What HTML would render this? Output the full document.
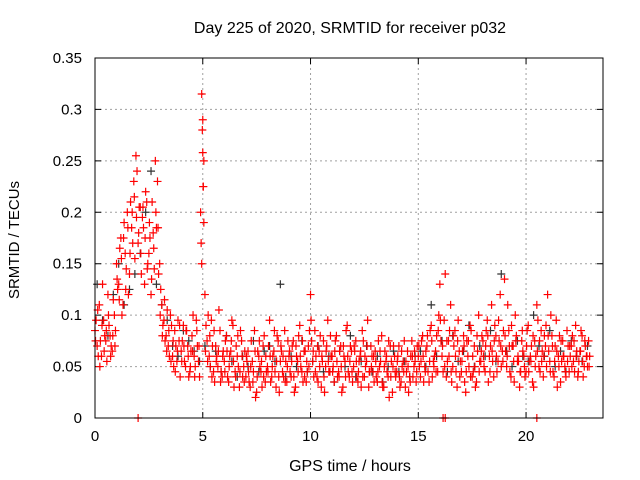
<!DOCTYPE html>
<html><head><meta charset="utf-8"><style>
body{margin:0;background:#fff;}
svg{display:block;font-family:"Liberation Sans",sans-serif;}
</style></head><body>
<svg id="chart" width="640" height="480">
<text x="350" y="33" text-anchor="middle" font-size="16">Day 225 of 2020, SRMTID for receiver p032</text>
<text x="350" y="471" text-anchor="middle" font-size="16">GPS time / hours</text>
<text transform="translate(19,240) rotate(-90)" text-anchor="middle" font-size="15">SRMTID / TECUs</text>
<g id="grid"></g><g id="ticks"></g><g id="black"></g><g id="red"></g>
<rect x="95" y="58" width="508" height="360" fill="none" stroke="#000" stroke-width="1"/>
</svg>
<script>
const xTicks=[0,5,10,15,20];
const yTicks=[0,0.05,0.1,0.15,0.2,0.25,0.3,0.35];
const yTickLabels=["0","0.05","0.1","0.15","0.2","0.25","0.3","0.35"];
const redA=[85,70,110,60,95,75,120,80,65,100,150,130,175,110,160,200,140,185,230,255,170,205,195,130,210,160,120,180,250,230,150,110,95,80,70,100,60,85,55,75,65,90,50,70,45,80,60,95,55,200,290,120,75,60,95,45,70,50,85,40,55,80,35,65,90,45,60,30,75,50,40,65,30,55,85,25,60,45,70,35,50,95,40,65,30,75,55,45,85,35,60,40,75,30,55,90,45,65,35,70,120,55,85,40,65,30,75,50,95,45,60,35,80,45,70,30,55,90,40,65,50,75,35,60,85,40,55,30,70,45,65,35,50,80,30,55,40,70,25,60,45,70,35,55,30,65,40,75,50,35,60,40,80,50,70,35,90,55,65,45,130,60,95,40,75,110,50,85,30,65,45,80,25,60,90,40,70,35,100,55,75,45,95,60,110,40,80,55,120,65,135,50,85,40,70,100,55,30,75,60,45,90,60,35,75,110,50,85,40,70,120,55,80,40,95,60,35,75,50,85,45,70,55,90,40,65,80,50,60,75];
const redB=[95,60,75,130,80,55,90,70,115,85,125,165,100,190,145,120,210,170,155,240,205,140,185,220,150,175,210,145,185,140,125,90,75,105,60,90,50,70,95,40,75,55,85,40,65,100,50,70,40,150,250,90,100,50,70,35,60,105,45,65,75,40,60,95,30,70,50,85,40,65,55,35,75,45,20,65,50,30,80,45,70,35,60,45,80,25,65,40,55,75,45,70,25,60,80,50,35,65,45,85,75,40,60,35,80,55,25,70,45,60,50,75,40,65,25,60,85,45,70,35,65,40,55,30,75,50,95,45,60,35,40,75,55,30,65,45,20,55,70,40,60,30,50,75,45,25,60,40,55,70,50,75,35,65,45,85,40,60,80,100,75,45,140,55,85,35,70,45,95,55,65,35,75,50,85,45,30,65,55,80,50,85,35,70,55,90,45,75,50,85,65,110,45,70,35,80,55,45,65,40,85,55,70,30,60,95,45,65,80,50,65,100,45,70,30,80,55,60,40,70,60,80,45,65,55,85,40,70,50,60];
const redC=[75,105,50,90,65,85,100,60,80,70,135,115,155,175,125,185,160,200,215,195,180,160,205,175,145,190,135,165,200,185,100,80,115,65,85,55,75,45,65,90,55,70,85,60,50,65,40,85,70,170,225,65,55,80,40,85,55,65,35,60,45,65,50,75,55,40,80,45,60,35,60,45,50,35,65,40,75,55,40,60,45,60,50,85,55,40,70,60,35,50,65,55,40,70,45,60,75,40,55,50,95,65,45,70,50,60,40,65,55,80,45,65,55,40,50,70,40,60,55,45,70,55,45,65,40,60,70,45,50,60,55,45,65,35,50,60,75,40,50,45,55,40,65,45,55,50,35,60,65,45,70,55,60,45,80,55,75,50,45,85,95,70,50,75,60,45,80,60,75,40,55,70,45,75,40,60,50,80,45,65,60,70,80,45,65,75,60,95,70,55,80,60,70,90,55,75,60,45,85,50,70,45,55,80,50,65,75,55,60,90,80,45,70,55,65,50,75,60,45,55,70,50,75,60,45,65,55,75,60,50];
const black=[130,95,80,120,150,110,125,140,160,200,240,130,110,95,70,60,85,75,65,55,70,50,65,45,80,55,40,60,50,75,45,65,70,55,130,40,60,50,75,45,55,70,45,60,35,65,50,80,40,55,70,45,60,35,50,65,45,55,40,60,65,50,110,60,75,45,80,55,65,90,50,70,60,85,55,140,65,50,75,60,55,100,70,60,85,50,65,45,75,60,55,70];
const spikeT=[4.95,4.98,5.0,5.02,5.05];
const spikeV=[315,280,258,225,190];
const zeroT=[2.0,16.15,16.25,20.5];
const X0=95,X1=603,Y0=418,Y1=58,XMAX=23.57,YMAX=0.35;
const sx=t=>X0+(X1-X0)*t/XMAX, sy=v=>Y0-(Y0-Y1)*v/YMAX;
const NS='http://www.w3.org/2000/svg';
function mk(tag,p,attrs){const e=document.createElementNS(NS,tag);for(const k in attrs)e.setAttribute(k,attrs[k]);p.appendChild(e);return e;}
const grid=document.getElementById('grid'),ticks=document.getElementById('ticks');
xTicks.forEach((t,i)=>{const x=sx(t);
 if(t>0){const g=mk('line',grid,{x1:x,x2:x,y1:Y1,y2:Y0,stroke:'#a0a0a0','stroke-dasharray':'2,3'});
 
 }
 const tk=mk('path',ticks,{d:`M${x},${Y0}v-6M${x},${Y1}v6`,stroke:'#000'});
 
 
 const l=mk('text',ticks,{x:x,y:Y0+23,'text-anchor':'middle','font-size':'15'});l.textContent=t;
 
 });
yTicks.forEach((v,i)=>{const y=sy(v);
 if(v>0&&v<YMAX){const g=mk('line',grid,{x1:X0,x2:X1,y1:y,y2:y,stroke:'#a0a0a0','stroke-dasharray':'2,3'});
 
 }
 const tk=mk('path',ticks,{d:`M${X0},${y}h6M${X1},${y}h-6`,stroke:'#000'});
 
 
 const l=mk('text',ticks,{x:X0-13,y:y+5,'text-anchor':'end','font-size':'15'});l.textContent=yTickLabels[i];
 
 });
function plus(g,t,v,c,name){const x=sx(t),y=sy(v);
 const p=mk('path',g,{d:`M${x-4},${y}h8M${x},${y-4}v8`,stroke:c,'stroke-width':'1.2'});
 
 }
const bg=document.getElementById('black'),rg=document.getElementById('red');
black.forEach((v,i)=>plus(bg,i*0.25+0.1,v/1000,'#333','black-point'));
redA.forEach((v,i)=>plus(rg,i*0.1,v/1000,'#f00','red-point'));
redB.forEach((v,i)=>plus(rg,i*0.1+0.05,v/1000,'#f00','red-point'));
redC.forEach((v,i)=>plus(rg,i*0.1+0.025,v/1000,'#f00','red-point'));
spikeV.forEach((v,i)=>plus(rg,spikeT[i],v/1000,'#f00','red-point'));
zeroT.forEach(t=>plus(rg,t,0,'#f00','red-point'));
</script>
</body></html>
